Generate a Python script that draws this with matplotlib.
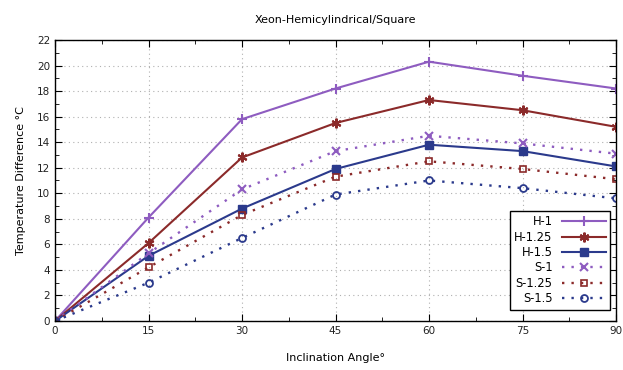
import matplotlib.pyplot as plt
import numpy as np

angles = [0, 15, 30, 45, 60, 75, 90]

h_1 = [0, 8.1, 15.8, 18.2, 20.3, 19.2, 18.2]
h_125 = [0, 6.1, 12.8, 15.5, 17.3, 16.5, 15.2]
h_15 = [0, 5.1, 8.8, 11.9, 13.8, 13.3, 12.1]
s_1 = [0, 5.3, 10.3, 13.3, 14.5, 13.9, 13.1]
s_125 = [0, 4.2, 8.3, 11.3, 12.5, 11.9, 11.1]
s_15 = [0, 3.0, 6.5, 9.9, 11.0, 10.4, 9.6]

purple = '#8e5cc0'
red = '#8b2a2a'
blue = '#2b3a8c'
dots = (0, (1, 3))

plt.rcParams['font.family'] = ['DejaVu Sans']
plt.rcParams['font.size'] = 7.5

fig = plt.figure(figsize=(6.23, 3.70), dpi=100)
ax = fig.add_axes([0.0883, 0.1324, 0.9005, 0.7596])

ax.plot(angles, h_1, '-', color=purple, lw=1.5, marker='+', ms=7, mew=1.5, label='H-1')
ax.plot(angles, h_125, '-', color=red, lw=1.5, marker=(6, 2, 0), ms=7, mew=1.5, label='H-1.25')
ax.plot(angles, h_15, '-', color=blue, lw=1.5, marker='s', ms=6, label='H-1.5')
ax.plot(angles, s_1, linestyle=dots, color=purple, lw=1.7, marker='x', ms=6, mew=1.5, label='S-1')
ax.plot(angles, s_125, linestyle=dots, color=red, lw=1.7, marker='s', ms=5, mfc='none', mew=1.2, label='S-1.25')
ax.plot(angles, s_15, linestyle=dots, color=blue, lw=1.7, marker='o', ms=5, mfc='none', mew=1.3, label='S-1.5')

ax.set_xlim(0, 90)
ax.set_ylim(0, 22)
ax.set_xticks(np.arange(0, 91, 15))
ax.set_xticks(np.arange(0, 91, 7.5), minor=True)
ax.set_yticks(np.arange(0, 23, 2))
ax.set_yticks(np.arange(0, 23, 1), minor=True)
ax.tick_params(which='both', direction='in', top=True, right=True, colors='black', labelcolor='#222222')
ax.tick_params(which='major', length=5)
ax.tick_params(which='minor', length=3)
ax.grid(True, which='major', linestyle=(0, (1, 3)), color='#b0b0b0', lw=0.8)
for sp in ax.spines.values():
    sp.set_linewidth(1.0)

ax.set_title('Xeon-Hemicylindrical/Square', fontsize=8, pad=12)
ax.set_xlabel('Inclination Angle°', fontsize=8, labelpad=12)
ax.set_ylabel('Temperature Difference °C', fontsize=8, labelpad=8)

leg = ax.legend(loc='lower right', markerfirst=False, fancybox=False, framealpha=1,
                edgecolor='black', handlelength=3.8, borderpad=0.4, labelspacing=0.2,
                bbox_to_anchor=(1.0, 0.02), fontsize=8.3)
leg.get_frame().set_linewidth(1.0)
for t in leg.get_texts():
    t.set_ha('right')

fig.savefig('out.png', dpi=100)
